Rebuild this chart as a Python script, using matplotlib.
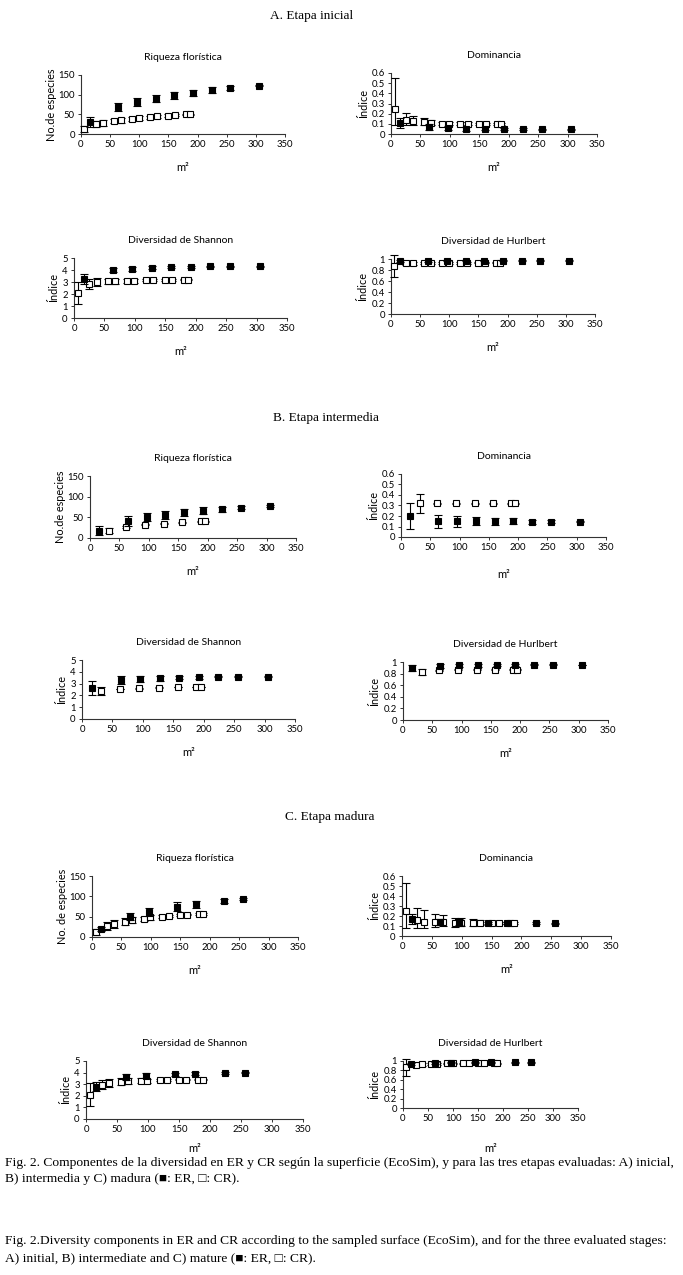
import numpy as np
import matplotlib
matplotlib.use("Agg")
import matplotlib.pyplot as plt
from matplotlib.ticker import FuncFormatter

plt.rcParams['font.family'] = ['Lato', 'DejaVu Sans']

W, H = 683, 1275

# ---------------- data ----------------
# x positions (m2)
erA_x = [16, 64, 96, 128, 160, 192, 224, 256, 305]
crA_x = [6, 25, 37, 56, 68, 87, 99, 118, 130, 149, 161, 180, 187]
erB_x = [16, 64, 96, 128, 160, 192, 224, 256, 305]
crB_x = [32, 62, 94, 126, 157, 188, 195]
erC_x = [16, 64, 96, 144, 176, 224, 256]
crC_x = [6, 25, 37, 56, 68, 88, 99, 119, 131, 150, 162, 181, 188]

# A. Etapa inicial
richA_er = [30, 68, 82, 90, 98, 105, 112, 116, 123]
richA_er_e = [12, 10, 10, 9, 9, 8, 7, 5, 2]
richA_cr = [12, 25, 28, 33, 35, 38, 40, 43, 45, 47, 48, 50, 50]
richA_cr_e = [8, 7, 7, 6, 6, 5, 5, 4, 4, 3, 3, 2, 2]
domA_er = [0.11, 0.07, 0.06, 0.05, 0.05, 0.045, 0.045, 0.045, 0.045]
domA_er_e = [0.05, 0.03, 0.02, 0.02, 0.015, 0.01, 0.01, 0.008, 0.005]
domA_cr = [0.25, 0.14, 0.13, 0.12, 0.11, 0.10, 0.10, 0.10, 0.10, 0.10, 0.10, 0.10, 0.10]
domA_cr_lo = [0.16, 0.05, 0.04, 0.03, 0.02, 0.01, 0.01, 0.01, 0.01, 0.01, 0.01, 0.01, 0.01]
domA_cr_hi = [0.30, 0.07, 0.05, 0.04, 0.03, 0.02, 0.02, 0.015, 0.015, 0.01, 0.01, 0.01, 0.01]
shA_er = [3.25, 4.0, 4.1, 4.2, 4.25, 4.27, 4.3, 4.3, 4.3]
shA_er_e = [0.4, 0.2, 0.15, 0.1, 0.08, 0.07, 0.05, 0.05, 0.03]
shA_cr = [2.1, 2.85, 3.0, 3.05, 3.05, 3.1, 3.1, 3.15, 3.15, 3.2, 3.2, 3.2, 3.2]
shA_cr_e = [0.9, 0.4, 0.3, 0.2, 0.2, 0.15, 0.15, 0.1, 0.1, 0.08, 0.08, 0.06, 0.06]
huA_er = [0.96, 0.96, 0.97, 0.97, 0.97, 0.97, 0.97, 0.97, 0.97]
huA_er_e = [0.02, 0.02, 0.015, 0.01, 0.01, 0.01, 0.01, 0.01, 0.005]
huA_cr = [0.87, 0.92, 0.92, 0.93, 0.93, 0.93, 0.93, 0.93, 0.93, 0.93, 0.93, 0.93, 0.93]
huA_cr_e = [0.2, 0.03, 0.03, 0.02, 0.02, 0.02, 0.02, 0.015, 0.015, 0.01, 0.01, 0.01, 0.01]

# B. Etapa intermedia
richB_er = [18, 42, 50, 56, 62, 66, 70, 73, 77]
richB_er_e = [10, 12, 10, 10, 9, 8, 6, 4, 2]
richB_cr = [18, 27, 32, 35, 38, 40, 40]
richB_cr_e = [6, 2, 1, 1, 1, 1, 1]
domB_er = [0.20, 0.15, 0.15, 0.15, 0.15, 0.15, 0.145, 0.145, 0.145]
domB_er_e = [0.12, 0.06, 0.05, 0.04, 0.035, 0.03, 0.02, 0.015, 0.005]
domB_cr = [0.32, 0.32, 0.32, 0.32, 0.32, 0.32, 0.32]
domB_cr_e = [0.09, 0.005, 0.005, 0.005, 0.005, 0.005, 0.005]
shB_er = [2.6, 3.3, 3.4, 3.45, 3.5, 3.55, 3.6, 3.6, 3.6]
shB_er_e = [0.6, 0.35, 0.25, 0.2, 0.15, 0.12, 0.08, 0.06, 0.03]
shB_cr = [2.35, 2.55, 2.6, 2.65, 2.7, 2.7, 2.7]
shB_cr_e = [0.35, 0.03, 0.03, 0.03, 0.03, 0.03, 0.03]
huB_er = [0.89, 0.93, 0.94, 0.945, 0.95, 0.95, 0.95, 0.95, 0.95]
huB_er_e = [0.05, 0.04, 0.03, 0.025, 0.02, 0.02, 0.01, 0.01, 0.005]
huB_cr = [0.83, 0.86, 0.87, 0.87, 0.87, 0.87, 0.87]
huB_cr_e = [0.05, 0.01, 0.01, 0.01, 0.01, 0.01, 0.01]

# C. Etapa madura
richC_er = [20, 50, 62, 75, 80, 88, 93]
richC_er_e = [5, 9, 10, 10, 8, 5, 2]
richC_cr = [12, 27, 32, 38, 42, 45, 48, 50, 52, 54, 55, 57, 57]
richC_cr_e = [8, 10, 9, 8, 7, 5, 5, 3, 3, 3, 2, 2, 2]
domC_er = [0.17, 0.14, 0.14, 0.135, 0.135, 0.13, 0.13]
domC_er_e = [0.05, 0.03, 0.03, 0.01, 0.01, 0.008, 0.005]
domC_cr = [0.25, 0.16, 0.14, 0.14, 0.14, 0.135, 0.135, 0.135, 0.135, 0.135, 0.135, 0.135, 0.135]
domC_cr_lo = [0.17, 0.08, 0.06, 0.05, 0.04, 0.04, 0.035, 0.03, 0.025, 0.015, 0.01, 0.01, 0.01]
domC_cr_hi = [0.28, 0.12, 0.12, 0.08, 0.07, 0.05, 0.045, 0.035, 0.03, 0.02, 0.01, 0.01, 0.01]
shC_er = [2.8, 3.6, 3.75, 3.85, 3.9, 3.95, 4.0]
shC_er_e = [0.4, 0.25, 0.2, 0.15, 0.12, 0.06, 0.05]
shC_cr = [2.1, 2.95, 3.1, 3.2, 3.25, 3.3, 3.3, 3.35, 3.35, 3.4, 3.4, 3.4, 3.4]
shC_cr_e = [1.0, 0.4, 0.35, 0.3, 0.25, 0.2, 0.18, 0.1, 0.1, 0.08, 0.06, 0.05, 0.05]
huC_er = [0.94, 0.96, 0.96, 0.97, 0.97, 0.97, 0.97]
huC_er_e = [0.02, 0.015, 0.01, 0.01, 0.01, 0.005, 0.005]
huC_cr = [0.87, 0.92, 0.93, 0.94, 0.94, 0.95, 0.95, 0.95, 0.95, 0.95, 0.95, 0.95, 0.95]
huC_cr_e = [0.18, 0.04, 0.03, 0.02, 0.02, 0.015, 0.015, 0.01, 0.01, 0.01, 0.01, 0.01, 0.01]

fig = plt.figure(figsize=(W / 100, H / 100), dpi=100)
fig.patch.set_facecolor('white')


def panel(px, title, ylabel, ymax, ystep, er_x, er_y, er_e, cr_x, cr_y, cr_e,
          xlpad=9, ylpad=2):
    # px = (x_left, x_right, y_top, y_bottom) in pixels
    x0, x1, yt, yb = px
    ax = fig.add_axes([x0 / W, 1 - yb / H, (x1 - x0) / W, (yb - yt) / H])
    ax.errorbar(cr_x, cr_y, yerr=cr_e, fmt='s', ms=4.2, mfc='white', mec='black',
                mew=0.8, ecolor='black', elinewidth=0.8, capsize=3, capthick=0.8,
                clip_on=False, zorder=3)
    ax.errorbar(er_x, er_y, yerr=er_e, fmt='s', ms=4.4, mfc='black', mec='black',
                mew=0.8, ecolor='black', elinewidth=0.8, capsize=3, capthick=0.8,
                clip_on=False, zorder=4)
    ax.set_xlim(0, 350)
    ax.set_ylim(0, ymax)
    ax.set_xticks(np.arange(0, 351, 50))
    ax.set_yticks(np.arange(0, ymax + ystep / 2, ystep))
    ax.yaxis.set_major_formatter(FuncFormatter(lambda v, p: '{:g}'.format(round(v, 3))))
    for s in ['top', 'right']:
        ax.spines[s].set_visible(False)
    for s in ['left', 'bottom']:
        ax.spines[s].set_linewidth(0.8)
        ax.spines[s].set_color('#333333')
    ax.tick_params(direction='out', length=2.5, width=0.7, labelsize=6.8, pad=2,
                   color='#333333')
    ax.set_title(title, fontsize=7.5, pad=11)
    ax.set_ylabel(ylabel, fontsize=7.8, labelpad=ylpad)
    ax.set_xlabel('m²', fontsize=8, labelpad=xlpad)
    return ax


ER_SH = 'Diversidad de Shannon'
HU = 'Diversidad de Hurlbert'

# A
panel((81, 285, 75, 134), 'Riqueza florística', 'No.de especies', 150, 50,
      erA_x, richA_er, richA_er_e, crA_x, richA_cr, richA_cr_e, ylpad=1)
panel((391, 597, 73, 134), 'Dominancia', 'Índice', 0.6, 0.1,
      erA_x, domA_er, domA_er_e, crA_x, domA_cr, [domA_cr_lo, domA_cr_hi])
panel((74, 287, 258, 318), ER_SH, 'Índice', 5, 1,
      erA_x, shA_er, shA_er_e, crA_x, shA_cr, shA_cr_e)
panel((391, 595, 259, 314), HU, 'Índice', 1, 0.2,
      erA_x, huA_er, huA_er_e, crA_x, huA_cr, huA_cr_e)

# B
panel((90, 296, 476, 538), 'Riqueza florística', 'No.de especies', 150, 50,
      erB_x, richB_er, richB_er_e, crB_x, richB_cr, richB_cr_e, ylpad=1)
panel((401, 606, 474, 537), 'Dominancia', 'Índice', 0.6, 0.1,
      erB_x, domB_er, domB_er_e, crB_x, domB_cr, domB_cr_e, xlpad=12)
panel((82, 295, 660, 719), ER_SH, 'Índice', 5, 1,
      erB_x, shB_er, shB_er_e, crB_x, shB_cr, shB_cr_e)
panel((403, 608, 662, 720), HU, 'Índice', 1, 0.2,
      erB_x, huB_er, huB_er_e, crB_x, huB_cr, huB_cr_e)

# C
panel((92, 298, 876, 937), 'Riqueza florística', 'No. de especies', 150, 50,
      erC_x, richC_er, richC_er_e, crC_x, richC_cr, richC_cr_e, ylpad=1)
panel((402, 611, 876, 936), 'Dominancia', 'Índice', 0.6, 0.1,
      erC_x, domC_er, domC_er_e, crC_x, domC_cr, [domC_cr_lo, domC_cr_hi])
panel((86, 303, 1061, 1119), ER_SH, 'Índice', 5, 1,
      erC_x, shC_er, shC_er_e, crC_x, shC_cr, shC_cr_e, xlpad=6)
panel((403, 578, 1061, 1108), HU, 'Índice', 1, 0.2,
      erC_x, huC_er, huC_er_e, crC_x, huC_cr, huC_cr_e, xlpad=14)

# section headings
serif = ['Liberation Serif', 'DejaVu Serif']
fig.text(312 / W, 1 - 16 / H, 'A. Etapa inicial', ha='center', va='center',
         fontsize=9.5, family=serif)
fig.text(326 / W, 1 - 418 / H, 'B. Etapa intermedia', ha='center', va='center',
         fontsize=9.5, family=serif)
fig.text(330 / W, 1 - 817 / H, 'C. Etapa madura', ha='center', va='center',
         fontsize=9.5, family=serif)

# caption
cap = [
    (1163, 'Fig. 2. Componentes de la diversidad en ER y CR según la superficie (EcoSim), y para las tres etapas evaluadas: A) inicial,'),
    (1179, 'B) intermedia y C) madura (■: ER, □: CR).'),
    (1241, 'Fig. 2.Diversity components in ER and CR according to the sampled surface (EcoSim), and for the three evaluated stages:'),
    (1258, 'A) initial, B) intermediate and C) mature (■: ER, □: CR).'),
]
for y, t in cap:
    fig.text(5 / W, 1 - y / H, t, ha='left', va='center', fontsize=9.7, family=serif)

fig.savefig('out.png', dpi=100)
